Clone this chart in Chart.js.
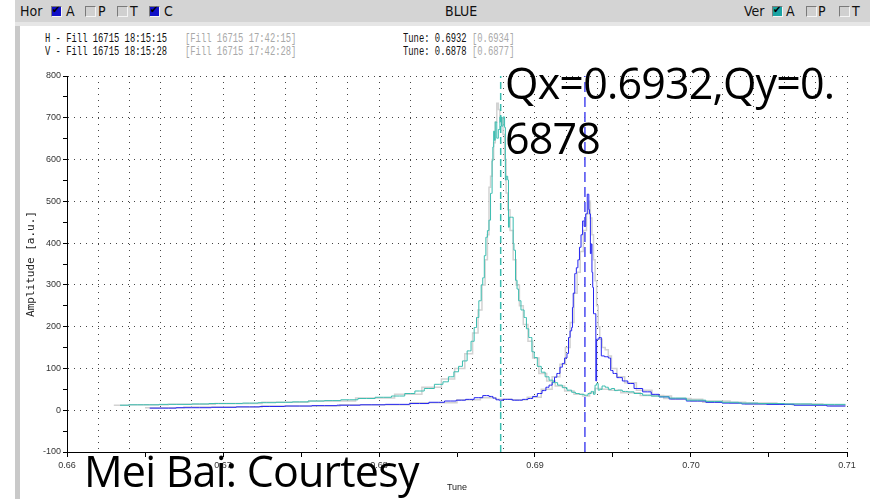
<!DOCTYPE html>
<html>
<head>
<meta charset="utf-8">
<script src="https://cdn.jsdelivr.net/npm/chart.js@4/dist/chart.umd.min.js"></script>
<style>
  html, body { margin:0; padding:0; background:#fff; }
  #wrap { position:relative; width:870px; height:499px; overflow:hidden; background:#fff; font-family:"Liberation Sans", Arial, sans-serif; }
  #leftstrip { position:absolute; left:15px; top:0; width:5px; height:499px; background:#c9c9c9; }
  #band { position:absolute; left:15px; top:0; width:855px; height:22px; background:#d4d4d4; }
  #band2 { position:absolute; left:15px; top:22px; width:855px; height:4px; background:#e6e6e6; }
  .hdr { position:absolute; top:3px; font-family:"DejaVu Sans Condensed","DejaVu Sans",sans-serif; font-size:14px; color:#111; line-height:17px; white-space:nowrap; }
  .cb { position:absolute; top:6px; width:9px; height:9px; border:1px solid; border-color:#7a7a7a #f4f4f4 #f4f4f4 #7a7a7a; background:#d0d0d0; }
  .cb.on { background:#1010c8; }
  .cb.teal { background:#1aa3a3; }
  .cb.on::after, .cb.teal::after { content:"\2714"; position:absolute; left:0px; top:-3px; font-size:10px; color:#000; font-family:"DejaVu Sans"; }
  .info { position:absolute; font-family:"Liberation Mono", "DejaVu Sans Mono", monospace; font-size:13px; line-height:13px; transform-origin:0 0; transform:scaleX(0.68); white-space:pre; color:#111; }
  .info.g { color:#a8a8a8; }
  canvas { position:absolute; left:0; top:0; }
  .big { position:absolute; font-family:"Open Sans", sans-serif; font-size:43px; letter-spacing:-0.8px; line-height:58px; color:#000; white-space:nowrap; }
</style>
</head>
<body>
<div id="wrap">
  <div id="leftstrip"></div>
  <div id="band"></div>
  <div id="band2"></div>
  <div class="hdr" style="left:20px">Hor</div>
  <div class="cb on" style="left:51px"></div>
  <div class="hdr" style="left:66px">A</div>
  <div class="cb" style="left:85px"></div>
  <div class="hdr" style="left:98px">P</div>
  <div class="cb" style="left:117px"></div>
  <div class="hdr" style="left:130px">T</div>
  <div class="cb on" style="left:149px"></div>
  <div class="hdr" style="left:164px">C</div>
  <div class="hdr" style="left:445px">BLUE</div>
  <div class="hdr" style="left:744px">Ver</div>
  <div class="cb teal" style="left:772px"></div>
  <div class="hdr" style="left:786px">A</div>
  <div class="cb" style="left:806px"></div>
  <div class="hdr" style="left:818px">P</div>
  <div class="cb" style="left:839px"></div>
  <div class="hdr" style="left:852px">T</div>

  <div class="info" style="left:45px;top:32px">H - Fill 16715 18:15:15</div>
  <div class="info g" style="left:185px;top:32px">[Fill 16715 17:42:15]</div>
  <div class="info" style="left:403px;top:32px">Tune: 0.6932</div>
  <div class="info g" style="left:472px;top:32px">[0.6934]</div>
  <div class="info" style="left:45px;top:45px">V - Fill 16715 18:15:28</div>
  <div class="info g" style="left:185px;top:45px">[Fill 16715 17:42:28]</div>
  <div class="info" style="left:403px;top:45px">Tune: 0.6878</div>
  <div class="info g" style="left:472px;top:45px">[0.6877]</div>

  <canvas id="c" width="870" height="499"></canvas>

  <div class="big" style="left:505px;top:54px">Qx=0.6932,Qy=0.</div>
  <div class="big" style="left:505px;top:109px">6878</div>
  <div class="big" style="left:84px;top:442px">Mei Bai: Courtesy</div>
</div>
<script>
// ---- data ----
const xTickLabels = ['0.66', '0.67', '0.68', '0.69', '0.70', '0.71'];
const yTickLabels = ['-100', '0', '100', '200', '300', '400', '500', '600', '700', '800'];

const tuneH = 0.6932;   // horizontal tune marker
const tuneV = 0.6878;   // vertical tune marker

// Vertical plane (teal) spectrum
const vTune = [0.6634,0.6645,0.6653,0.6665,0.6675,0.6685,0.6697,0.6708,0.6717,0.6728,0.6740,0.6749,0.6760,0.6770,0.6781,0.6792,0.6803,0.6813,0.6820,0.6826,0.6832,0.6839,0.6843,0.6846,0.6850,0.6852,0.6855,0.6858,0.6860,0.6862,0.6863,0.6865,0.6866,0.6867,0.6868,0.6869,0.6870,0.6871,0.6872,0.6873,0.6873,0.6874,0.6874,0.6875,0.6876,0.6877,0.6878,0.6879,0.6880,0.6881,0.6881,0.6882,0.6883,0.6883,0.6884,0.6886,0.6886,0.6887,0.6888,0.6889,0.6890,0.6892,0.6894,0.6895,0.6897,0.6899,0.6900,0.6903,0.6905,0.6908,0.6910,0.6913,0.6916,0.6919,0.6922,0.6925,0.6927,0.6930,0.6933,0.6935,0.6937,0.6938,0.6939,0.6940,0.6941,0.6942,0.6944,0.6946,0.6948,0.6950,0.6952,0.6954,0.6958,0.6961,0.6966,0.6972,0.6977,0.6982,0.6990,0.7004,0.7015,0.7025,0.7036,0.7050,0.7070,0.7085,0.7099];
const vAmp  = [12,13,13,14,14,15,16,16,17,18,19,20,22,23,25,28,31,34,40,46,52,62,68,80,92,105,118,142,165,198,222,262,300,317,370,414,430,455,519,597,630,668,646,690,651,672,702,680,702,677,551,560,551,438,462,462,400,383,311,290,262,240,222,195,174,140,126,105,91,80,72,66,60,54,48,43,40,38,36,40,45,38,60,64,48,50,58,55,50,52,47,48,45,44,40,36,34,32,29,24,21,19,17,16,15,14,14];

// Horizontal plane (blue) spectrum
const hTune = [0.6653,0.6665,0.6675,0.6685,0.6700,0.6717,0.6730,0.6749,0.6765,0.6781,0.6795,0.6813,0.6826,0.6838,0.6846,0.6853,0.6858,0.6864,0.6869,0.6872,0.6874,0.6876,0.6878,0.6881,0.6884,0.6887,0.6890,0.6894,0.6897,0.6900,0.6903,0.6906,0.6908,0.6910,0.6912,0.6913,0.6915,0.6917,0.6918,0.6920,0.6921,0.6922,0.6923,0.6924,0.6924,0.6925,0.6926,0.6927,0.6928,0.6929,0.6930,0.6931,0.6932,0.6933,0.6934,0.6935,0.6935,0.6936,0.6936,0.6937,0.6937,0.6938,0.6939,0.6939,0.6940,0.6942,0.6943,0.6946,0.6948,0.6949,0.6951,0.6954,0.6958,0.6961,0.6966,0.6972,0.6977,0.6982,0.6990,0.7004,0.7015,0.7025,0.7040,0.7057,0.7075,0.7099];
const hAmp  = [5,5,6,6,7,8,9,10,11,12,13,14,16,19,22,24,26,30,35,33,29,25,24,26,26,24,24,26,28,33,40,47,55,60,67,79,88,103,112,125,136,174,190,198,246,280,327,341,360,390,420,453,440,470,517,480,470,375,398,330,294,231,231,70,170,174,130,128,125,95,88,78,70,64,52,44,38,32,27,22,19,17,15,14,12,10];

// Reference (earlier fill) spectra, light grey
const vRefTune = [0.6630,0.6650,0.6680,0.6710,0.6740,0.6770,0.6800,0.6820,0.6835,0.6845,0.6852,0.6858,0.6862,0.6865,0.6867,0.6869,0.6870,0.6871,0.6872,0.6873,0.6874,0.6875,0.6876,0.6877,0.6878,0.6879,0.6880,0.6881,0.6882,0.6883,0.6885,0.6887,0.6889,0.6891,0.6894,0.6897,0.6900,0.6905,0.6910,0.6916,0.6922,0.6928,0.6933,0.6937,0.6940,0.6945,0.6950,0.6960,0.6975,0.6990,0.7010,0.7040,0.7070,0.7099];
const vRefAmp  = [12,13,14,16,19,22,29,38,55,75,100,135,185,240,300,360,420,534,560,600,640,690,735,720,690,700,660,600,520,480,430,360,300,250,205,165,125,88,70,58,46,38,34,42,52,50,48,42,35,28,22,17,15,13];
const hRefTune = [0.6650,0.6700,0.6750,0.6800,0.6840,0.6860,0.6870,0.6880,0.6890,0.6900,0.6908,0.6914,0.6918,0.6921,0.6924,0.6926,0.6928,0.6930,0.6932,0.6934,0.6935,0.6936,0.6937,0.6938,0.6939,0.6940,0.6941,0.6942,0.6944,0.6946,0.6948,0.6950,0.6955,0.6960,0.6970,0.6980,0.6995,0.7020,0.7050,0.7080,0.7099];
const hRefAmp  = [6,8,10,13,18,25,30,26,25,31,50,80,110,150,210,280,330,380,430,470,500,460,420,360,310,250,200,170,150,145,130,100,80,66,48,34,26,19,15,13,11];

// ---- build chart ----
const pts = (xs, ys) => xs.map((x, i) => ({ x: x, y: ys[i] }));
const yMin = Number(yTickLabels[0]), yMax = Number(yTickLabels[yTickLabels.length - 1]);
const xMin = Number(xTickLabels[0]), xMax = Number(xTickLabels[xTickLabels.length - 1]);
const TEAL = '#3bbdb0', BLUE = '#2424f0', GREY = '#d2d2d2';

const lineDs = (data, color, order, extra) => Object.assign({
  data: data, borderColor: color, borderWidth: 1, pointRadius: 0, showLine: true,
  fill: false, tension: 0, order: order
}, extra || {});

new Chart(document.getElementById('c'), {
  type: 'scatter',
  data: {
    datasets: [
      lineDs([{ x: tuneV, y: yMin }, { x: tuneV, y: yMax }], TEAL, 0, { borderDash: [7, 4], borderWidth: 1.5 }),
      lineDs([{ x: tuneH, y: yMin }, { x: tuneH, y: yMax }], BLUE, 0, { borderDash: [10, 5], borderWidth: 1.5, borderColor: '#4a4af0' }),
      lineDs(pts(vTune, vAmp), TEAL, 1, { stepped: 'middle' }),
      lineDs(pts(hTune, hAmp), BLUE, 1, { stepped: 'middle' }),
      lineDs(pts(vRefTune, vRefAmp), GREY, 2, { borderWidth: 1.5, stepped: 'middle' }),
      lineDs(pts(hRefTune, hRefAmp), GREY, 2, { borderWidth: 1.5, stepped: 'middle' })
    ]
  },
  options: {
    responsive: false,
    animation: false,
    devicePixelRatio: 1,
    layout: { padding: { left: 20, top: 76, right: 23, bottom: 0 } },
    plugins: { legend: { display: false }, tooltip: { enabled: false } },
    scales: {
      x: {
        type: 'linear', min: xMin, max: xMax,
        afterBuildTicks: (s) => {
          const t = [];
          for (let i = 0; i <= 50; i++) t.push({ value: Math.round((xMin * 1000 + i)) / 1000 });
          s.ticks = t;
        },
        afterFit: (s) => { s.height = 47; },
        ticks: {
          autoSkip: false, maxRotation: 0, padding: 3,
          color: '#333', font: { family: 'Liberation Sans', size: 9 },
          callback: (v, i) => (i % 10 === 0 ? xTickLabels[i / 10] : '')
        },
        grid: {
          color: (c) => (c.index % 2 === 0 ? '#444' : 'rgba(0,0,0,0)'),
          tickColor: (c) => (c.index % 5 === 0 ? '#000' : 'rgba(0,0,0,0)'),
          tickLength: 5, lineWidth: 1
        },
        border: { display: true, color: '#000', width: 1, dash: [1, 5] },
        title: { display: true, text: 'Tune', color: '#222', font: { family: 'Liberation Sans', size: 9 }, padding: { top: 0, bottom: 6 } }
      },
      y: {
        min: yMin, max: yMax,
        afterBuildTicks: (s) => {
          const t = [];
          for (let v = yMin; v <= yMax; v += 50) t.push({ value: v });
          s.ticks = t;
        },
        afterFit: (s) => { s.width = 47; },
        ticks: {
          autoSkip: false, padding: 2,
          color: '#333', font: { family: 'Liberation Sans', size: 9 },
          callback: (v, i) => (i % 2 === 0 ? yTickLabels[i / 2] : '')
        },
        grid: {
          color: (c) => (c.index % 2 === 0 && c.index > 0 ? '#444' : 'rgba(0,0,0,0)'),
          tickColor: '#000',
          tickLength: 4, lineWidth: 1
        },
        border: { display: true, color: '#000', width: 1, dash: [1, 5] },
        title: { display: true, text: 'Amplitude [a.u.]', color: '#222', font: { family: 'DejaVu Sans Mono', size: 11 }, padding: { top: 5, bottom: 0 } }
      }
    }
  }
});
</script>
</body>
</html>
